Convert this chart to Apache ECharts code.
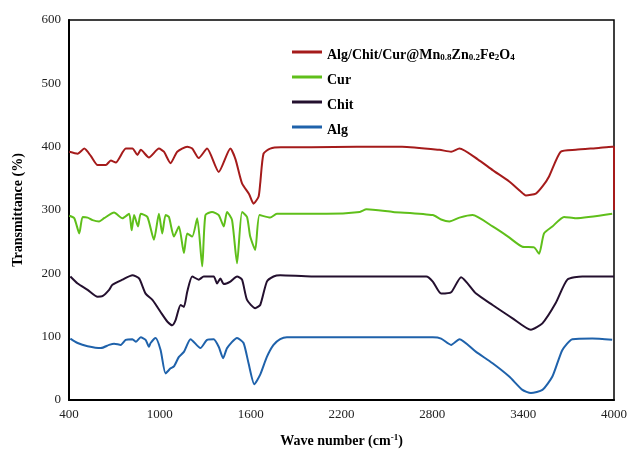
<!DOCTYPE html>
<html>
<head>
<meta charset="utf-8">
<script src="https://cdn.jsdelivr.net/npm/echarts@6/dist/echarts.min.js"></script>
<style>html,body{margin:0;padding:0;background:#fff;}#c{width:630px;height:457px;}</style>
</head>
<body>
<div id="c"></div>
<script>
// Tick settings
var xTicks = [400, 1000, 1600, 2200, 2800, 3400, 4000];
var yTicks = [0, 100, 200, 300, 400, 500, 600];

var seriesNames = ['Alg/Chit/Cur@Mn0.8Zn0.2Fe2O4', 'Cur', 'Chit', 'Alg'];

var compositeData = [[402,392],[457,389],[501,397],[545,385],[589,371],[643,371],[676,378],[709,375],[775,397],[819,397],[852,387],[874,395],[928,383],[994,397],[1027,392],[1071,374],[1115,392],[1181,400],[1214,397],[1257,382],[1312,397],[1389,360],[1466,397],[1500,380],[1543,342],[1590,325],[1619,310],[1652,321],[1663,342],[1685,389],[1729,397],[1800,399],[2000,399],[2300,400],[2600,400],[2847,395],[2924,392],[2979,397],[3100,380],[3198,363],[3308,345],[3380,330],[3418,323],[3484,326],[3530,338],[3571,353],[3648,392],[3747,395],[3900,398],[3988,400],[4000,400],[4000,300]];

var curData = [[402,291],[435,287],[468,263],[490,289],[523,288],[556,284],[599,282],[632,287],[698,296],[753,287],[797,294],[814,268],[830,292],[856,274],[874,294],[918,289],[961,253],[994,294],[1016,263],[1038,292],[1060,289],[1093,258],[1126,274],[1159,232],[1181,263],[1214,258],[1247,287],[1280,211],[1301,292],[1345,297],[1389,292],[1422,274],[1444,297],[1477,284],[1510,216],[1543,297],[1576,289],[1597,258],[1630,237],[1659,292],[1729,288],[1773,294],[2102,294],[2321,297],[2365,301],[2540,297],[2803,292],[2858,285],[2913,282],[2979,288],[3066,292],[3198,274],[3300,258],[3395,242],[3472,241],[3505,231],[3538,263],[3593,274],[3670,289],[3747,287],[3988,294]];

var chitData = [[409,195],[457,184],[523,174],[589,163],[621,164],[665,174],[687,182],[753,190],[819,197],[863,192],[906,168],[951,158],[1005,139],[1049,124],[1082,118],[1104,126],[1137,150],[1159,147],[1181,171],[1214,195],[1257,190],[1290,195],[1356,195],[1378,184],[1400,192],[1422,183],[1466,187],[1510,195],[1543,190],[1576,158],[1630,145],[1663,150],[1707,187],[1751,195],[1795,197],[2000,195],[2400,195],[2760,195],[2803,187],[2858,168],[2924,170],[2990,194],[3089,168],[3198,150],[3330,129],[3451,111],[3527,121],[3615,153],[3692,190],[3791,195],[4000,195]];

var algData = [[409,97],[457,90],[523,85],[611,82],[665,87],[698,89],[742,87],[775,95],[819,96],[841,92],[874,99],[906,95],[928,84],[939,90],[972,98],[1005,79],[1038,42],[1071,50],[1093,53],[1126,68],[1159,76],[1203,96],[1268,82],[1312,95],[1356,96],[1389,84],[1418,66],[1444,82],[1510,98],[1553,90],[1586,58],[1624,25],[1663,40],[1707,68],[1751,87],[1795,96],[1839,99],[2200,99],[2803,99],[2858,97],[2924,87],[2979,96],[3089,76],[3198,58],[3308,37],[3395,16],[3451,11],[3527,16],[3593,37],[3659,79],[3725,96],[3856,97],[3988,95]];

var colors = ['#a51b1b', '#5fbf1a', '#24102f', '#1f62ab'];
var allData = [compositeData, curData, chitData, algData];

var serif = 'Liberation Serif, Times New Roman, serif';
var chart = echarts.init(document.getElementById('c'));
chart.setOption({
  animation: false,
  grid: {left: 69, right: 15, top: 20, bottom: 57, show: true, borderColor: '#000', borderWidth: 1.5, backgroundColor: 'transparent'},
  legend: {
    orient: 'vertical', left: 287, top: 43, itemWidth: 30, itemHeight: 3, itemGap: 11, icon: 'rect',
    data: seriesNames,
    formatter: function (n) {
      if (n === seriesNames[0]) return '{n|Alg/Chit/Cur@Mn}{s|0.8}{n|Zn}{s|0.2}{n|Fe}{s|2}{n|O}{s|4}';
      return '{n|' + n + '}';
    },
    textStyle: {
      fontFamily: serif, fontWeight: 'bold', fontSize: 14, color: '#000',
      rich: {
        n: {fontFamily: serif, fontWeight: 'bold', fontSize: 14, color: '#000', lineHeight: 20, verticalAlign: 'bottom'},
        s: {fontFamily: serif, fontWeight: 'bold', fontSize: 9, color: '#000', lineHeight: 12, verticalAlign: 'bottom'}
      }
    }
  },
  xAxis: {
    type: 'value', min: xTicks[0], max: xTicks[xTicks.length - 1], interval: 600,
    name: '{b|Wave number (cm}{p|-1}{b|)}', nameLocation: 'middle', nameGap: 30,
    nameTextStyle: {rich: {
      b: {fontFamily: serif, fontWeight: 'bold', fontSize: 14, color: '#000', verticalAlign: 'bottom', lineHeight: 18},
      p: {fontFamily: serif, fontWeight: 'bold', fontSize: 9, color: '#000', verticalAlign: 'bottom', lineHeight: 18, padding: [0, 0, 6, 0]}
    }},
    axisLine: {show: true, lineStyle: {color: '#000', width: 2}},
    axisTick: {show: false}, splitLine: {show: false},
    axisLabel: {fontFamily: serif, fontSize: 13, color: '#222', margin: 8, formatter: function (v) { return String(v); }}
  },
  yAxis: {
    type: 'value', min: yTicks[0], max: yTicks[yTicks.length - 1], interval: 100,
    name: 'Transmittance (%)', nameLocation: 'middle', nameGap: 44, nameRotate: 90,
    nameTextStyle: {fontFamily: serif, fontWeight: 'bold', fontSize: 14, color: '#000'},
    axisLine: {show: true, lineStyle: {color: '#000', width: 2}},
    axisTick: {show: false}, splitLine: {show: false},
    axisLabel: {fontFamily: serif, fontSize: 13, color: '#222', margin: 8, formatter: function (v) { return String(v); }}
  },
  series: seriesNames.map(function (n, i) {
    return {name: n, type: 'line', data: allData[i], showSymbol: false, smooth: 0.2,
      lineStyle: {color: colors[i], width: 2}, itemStyle: {color: colors[i]}};
  })
});
</script>
</body>
</html>
